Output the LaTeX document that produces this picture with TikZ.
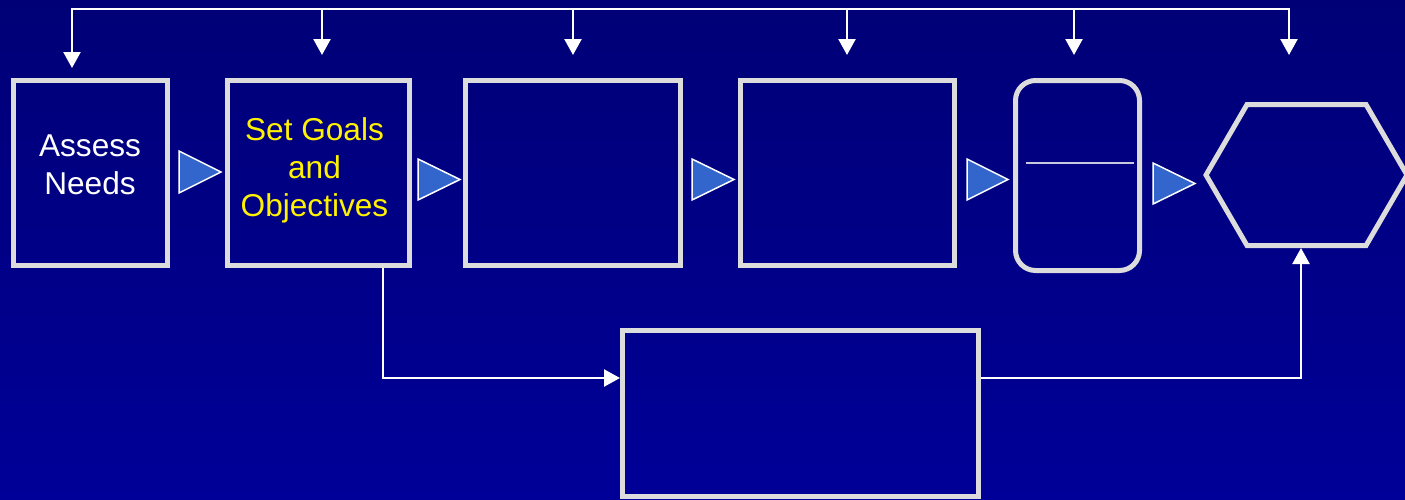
\documentclass[tikz,border=0pt]{standalone}
\usepackage{fontspec}
\setmainfont{Liberation Sans}
\usetikzlibrary{arrows.meta}
\definecolor{bgtop}{RGB}{0,0,118}
\definecolor{bgbot}{RGB}{0,0,152}
\definecolor{edgegray}{RGB}{220,220,220}
\definecolor{trifill}{RGB}{51,102,204}
\definecolor{innerline}{RGB}{200,200,225}
\begin{document}
\begin{tikzpicture}[x=1pt,y=-1pt,
  boxshape/.style={draw=edgegray, line width=5pt, rectangle, inner sep=0pt},
  lbl/.style={align=center, inner sep=0pt, font=\fontsize{31.6}{38.3}\selectfont},
  conn/.style={draw=white, line width=2.4pt},
  arr/.style={conn, -{Triangle[width=17pt,length=16pt]}},
  arrboth/.style={conn, {Triangle[width=17pt,length=16pt]}-{Triangle[width=17pt,length=16pt]}},
  flowtri/.style={fill=trifill, draw=white, line width=1.5pt, line join=miter}
]
\useasboundingbox (0,0) rectangle (1405,499);
\shade[top color=bgtop, bottom color=bgbot] (0,0) rectangle (1405,499);

% boxes
\node[boxshape, minimum width=154pt, minimum height=185pt] (b1) at (90.5,173) {};
\node[boxshape, minimum width=182pt, minimum height=185pt] (b2) at (318.5,173) {};
\node[boxshape, minimum width=215pt, minimum height=185pt] (b3) at (573,173) {};
\node[boxshape, minimum width=214.5pt, minimum height=185pt] (b4) at (847.25,173) {};
\node[boxshape, rounded corners=20pt, minimum width=124pt, minimum height=190pt] (b5) at (1077.5,175.5) {};
\node[boxshape, minimum width=356pt, minimum height=166pt] (bb) at (800.5,413.5) {};
\draw[draw=innerline, line width=1.5pt] (1026,163) -- (1134,163);

% hexagon
\draw[draw=edgegray, line width=5pt] (1206,175) -- (1247,104.5) -- (1366,104.5) -- (1407,175) -- (1366,245.5) -- (1247,245.5) -- cycle;
\coordinate (hb) at (1301,248);

% texts
\node[lbl, text=white] (t1) at (90,165) {Assess\\Needs};
\node[lbl, text=yellow] (t2) at (314.5,170.5) {Set Goals\\and\\Objectives};

% flow triangles
\path[flowtri] (179,151) -- (179,193) -- (221,172) -- cycle;
\path[flowtri] (418,159) -- (418,200) -- (460,179.5) -- cycle;
\path[flowtri] (692,159) -- (692,200) -- (734,179.5) -- cycle;
\path[flowtri] (967,159) -- (967,200) -- (1008,179.5) -- cycle;
\path[flowtri] (1153,163) -- (1153,204) -- (1195,183.5) -- cycle;

% top bus
\coordinate (c1) at (72,9);
\coordinate (c2) at (322,9);
\coordinate (c3) at (573,9);
\coordinate (c4) at (847,9);
\coordinate (c5) at (1074,9);
\coordinate (c6) at (1289,9);
\coordinate (e1) at (72,68);
\coordinate (e2) at (322,55);
\coordinate (e3) at (573,55);
\coordinate (e4) at (847,55);
\coordinate (e5) at (1074,55);
\coordinate (e6) at (1289,55);
\draw[arrboth] (e1) -- (c1) -- (c6) -- (e6);
\draw[arr] (c2) -- (e2);
\draw[arr] (c3) -- (e3);
\draw[arr] (c4) -- (e4);
\draw[arr] (c5) -- (e5);

% lower connectors
\coordinate (j1) at (383,378);
\coordinate (j2) at (1301,378);
\draw[arr] (b2.south -| j1) -- (j1) -- (bb.west |- j1);
\draw[arr] (bb.east |- j2) -- (j2) -- (hb);
\end{tikzpicture}
\end{document}
